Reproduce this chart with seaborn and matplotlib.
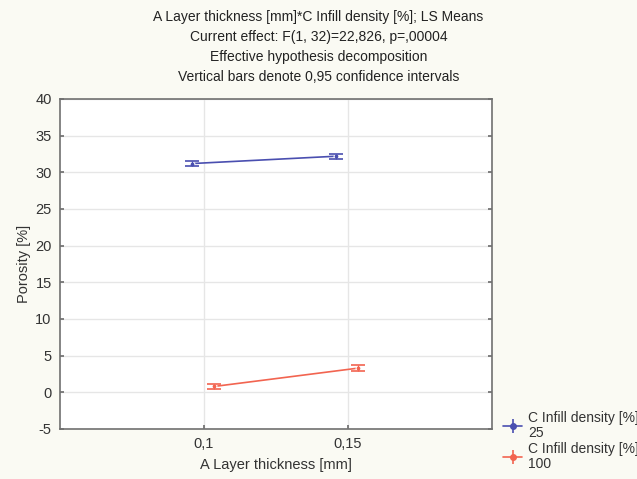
import numpy as np
import pandas as pd
import matplotlib
matplotlib.use("Agg")
import matplotlib.pyplot as plt
import seaborn as sns

layer = [0.1, 0.15]
infill_levels = ["25", "100"]
porosity_25 = [31.2, 32.2]
porosity_100 = [0.8, 3.3]
ci_25 = [0.35, 0.35]
ci_100 = [0.4, 0.4]
offsets = [-0.004, 0.0035]
colors = ["#4a4fb0", "#f26450"]
yticks = [-5, 0, 5, 10, 15, 20, 25, 30, 35, 40]
xticks = [0.1, 0.15]
xticklabels = ["0,1", "0,15"]

sns.set_theme(style="white")
plt.rcParams["font.family"] = ["Liberation Sans", "DejaVu Sans"]

fig = plt.figure(figsize=(6.37, 4.79), dpi=100, facecolor="#fafaf3")
ax = fig.add_axes([60/637, 1-429/479, (492-60)/637, (429-99)/479])
ax.set_facecolor("white")

rows = []
for lvl, vals, cis, off in zip(infill_levels, [porosity_25, porosity_100], [ci_25, ci_100], offsets):
    for x, v, c in zip(layer, vals, cis):
        rows.append({"x": x + off, "y": v, "ci": c, "Infill": lvl})
df = pd.DataFrame(rows)

pal = dict(zip(infill_levels, colors))
sns.lineplot(data=df, x="x", y="y", hue="Infill", palette=pal, marker="o",
             markersize=3.5, linewidth=1.2, ax=ax, legend=False)
for lvl in infill_levels:
    sub = df[df["Infill"] == lvl]
    ax.errorbar(sub["x"], sub["y"], yerr=sub["ci"], fmt="none", ecolor=pal[lvl],
                elinewidth=1, capsize=5, capthick=1.2)

ax.set_xlim(0.05, 0.2)
ax.set_ylim(-5, 40)
ax.set_xticks(xticks)
ax.set_xticklabels(xticklabels)
ax.set_yticks(yticks)
ax.set_yticklabels([str(t) for t in yticks])
ax.grid(True, color="#e6e6e6", linewidth=1)
ax.set_axisbelow(True)
for s in ax.spines.values():
    s.set_color("#707070")
    s.set_linewidth(1.2)
ax.tick_params(axis="both", direction="in", length=3, color="#707070",
               labelsize=10.5, labelcolor="#333333", right=True, bottom=True, left=True)
ax.tick_params(axis="x", pad=6)
ax.tick_params(axis="y", pad=6)
ax.set_xlabel("A Layer thickness [mm]", fontsize=10.5, color="#333333", labelpad=5)
ax.set_ylabel("Porosity [%]", fontsize=10.5, color="#333333", labelpad=3)

title = ("A Layer thickness [mm]*C Infill density [%]; LS Means\n"
         "Current effect: F(1, 32)=22,826, p=,00004\n"
         "Effective hypothesis decomposition\n"
         "Vertical bars denote 0,95 confidence intervals")
fig.text(0.5, 1-10/479, title, ha="center", va="top", fontsize=10,
         color="#222222", linespacing=1.55)

handles = []
for c in colors:
    h = ax.errorbar([], [], yerr=[], color=c, marker="o", markersize=4,
                    capsize=8, linewidth=1.2)
    handles.append(h)
labels = ["C Infill density [%]\n" + l for l in infill_levels]
leg = fig.legend(handles, labels, loc="upper left", bbox_to_anchor=(500/637, 1-408/479),
                 frameon=False, fontsize=10, handlelength=1.4, handletextpad=0.4,
                 labelspacing=0.1, borderpad=0.2, borderaxespad=0)
for t in leg.get_texts():
    t.set_linespacing(1.15)
    t.set_color("#333333")

fig.savefig("out.png", dpi=100, facecolor=fig.get_facecolor())
